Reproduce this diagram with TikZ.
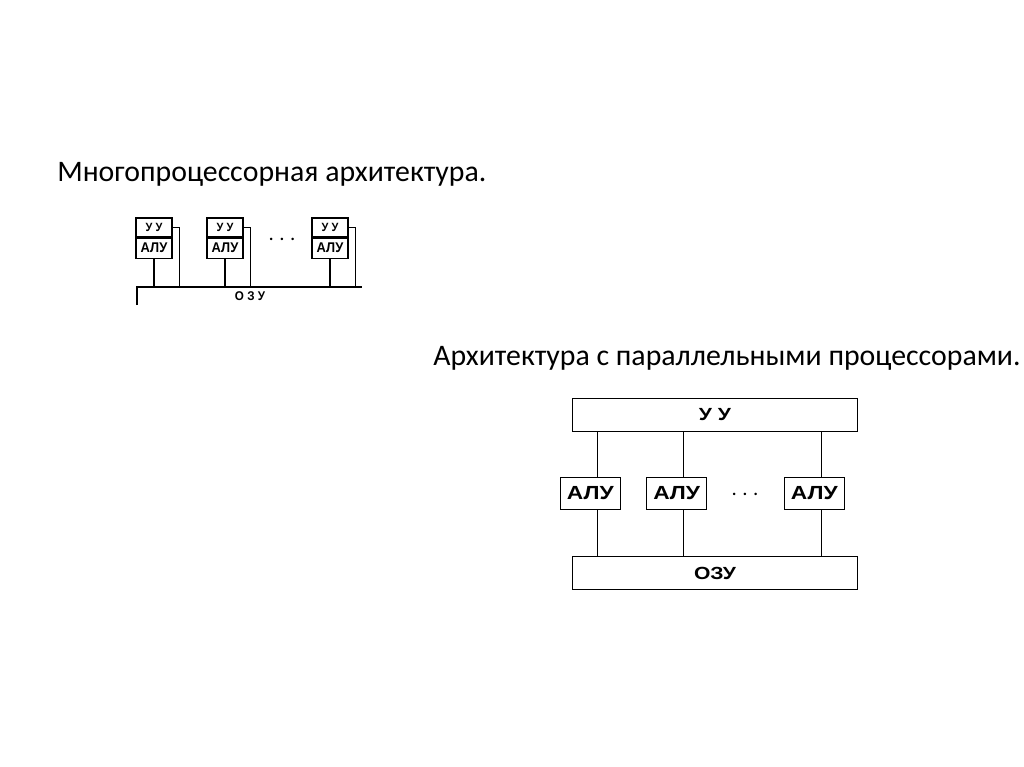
\documentclass[tikz,border=0pt]{standalone}
\usepackage{fontspec}
\setmainfont{Carlito}
\newfontfamily\boxfont[FakeStretch=1.2]{Liberation Sans}
\newfontfamily\smallboxfont[FakeStretch=0.92]{Liberation Sans}
\usetikzlibrary{positioning}

\begin{document}
\begin{tikzpicture}[x=0.025cm,y=-0.025cm,
  every node/.style={inner sep=0pt},
  title/.style={anchor=base west,font=\fontsize{21.2}{25}\selectfont},
  suu/.style={draw,line width=0.8pt,minimum width=0.9cm,minimum height=0.475cm,font=\smallboxfont\bfseries\fontsize{8.5}{9}\selectfont},
  salu/.style={suu,minimum height=0.5cm,font=\smallboxfont\bfseries\fontsize{10}{11}\selectfont},
  wide/.style={draw,line width=1pt,minimum width=7.115cm,font=\boxfont\bfseries\fontsize{12.5}{14}\selectfont},
  balu/.style={draw,line width=1pt,minimum width=1.5cm,minimum height=0.8cm,font=\boxfont\bfseries\fontsize{13.5}{15}\selectfont},
  dots/.style={font=\fontsize{16}{18}\selectfont},
  link/.style={line width=0.8pt}]
 \useasboundingbox[fill=white] (0,0) rectangle (1024,767);
 % titles
 \node[title] (t1) at (57,182) {Многопроцессорная архитектура.};
 \node[title] (t2) at (433,365) {Архитектура с параллельными процессорами.};
 % multiprocessor
 \coordinate (busL) at (137,287);
 \coordinate (busR) at (362,287);
 \coordinate (busE) at (137,305);
 \draw[link] (busE) -- (busL) -- (busR);
 \node[font=\smallboxfont\bfseries\fontsize{9}{10}\selectfont] (ozu) at (250,296) {О З У};
 \foreach \n/\x in {1/154,2/225,3/330}{
   \node[suu] (uu\n) at (\x,227.5) {У У};
   \node[salu,below=0pt of uu\n] (alu\n) {АЛУ};
   \draw[link] (alu\n.south) -- (alu\n.south |- busL);
   \draw[link] (uu\n.east) -- ++(7,0) coordinate (tap\n) -- (tap\n |- busL);
 }
 \node[dots] (sdots) at (282,240) {$\cdots$};
 % parallel processors
 \node[wide,minimum height=0.835cm] (buu) at (715,415) {У У};
 \node[wide,minimum height=0.815cm] (bozu) at (715,573) {ОЗУ};
 \foreach \n/\x in {1/590.3,2/676.7,3/814.3}{
   \node[balu] (balu\n) at (\x,493.3) {АЛУ};
   \draw[link] ([xshift=0.175cm]balu\n.north) coordinate (up\n) -- (up\n |- buu.south);
   \draw[link] ([xshift=0.175cm]balu\n.south) coordinate (dn\n) -- (dn\n |- bozu.north);
 }
 \node[dots] (bdots) at (745,495) {$\cdots$};
\end{tikzpicture}
\end{document}
